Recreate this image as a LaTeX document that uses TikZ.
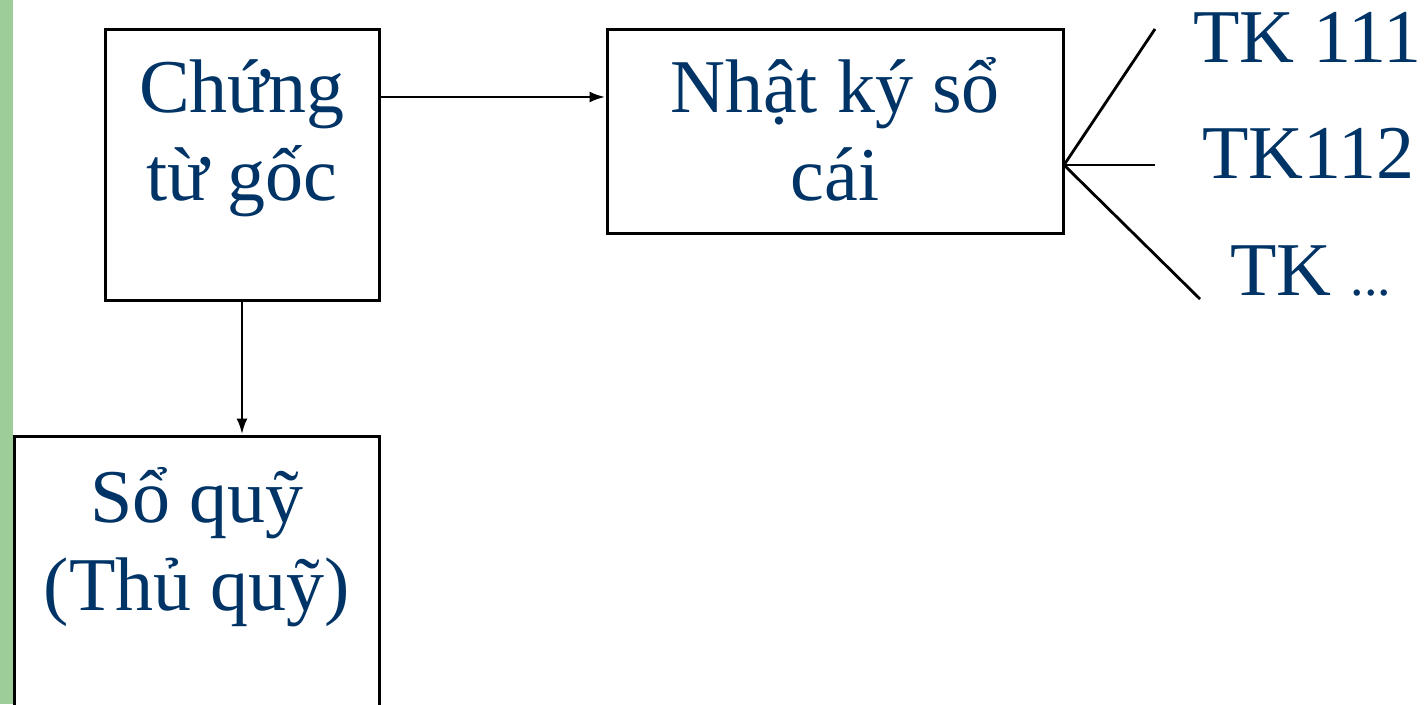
\documentclass[tikz,border=0pt]{standalone}
\usepackage{fontspec}
\setmainfont{Liberation Serif}
\usetikzlibrary{arrows.meta}
\definecolor{navy}{HTML}{003366}
\definecolor{sidebar}{HTML}{9DCD99}
\begin{document}
\begin{tikzpicture}[x=1pt,y=-1pt,
  box/.style={draw=black,line width=3pt,fill=none,inner sep=0pt},
  lbl/.style={text=navy,font=\fontsize{76}{88}\selectfont,align=center,inner sep=0pt,anchor=base},
  tk/.style={text=navy,font=\fontsize{76}{88}\selectfont,inner sep=0pt,anchor=base west},
  arr/.style={line width=2.8pt,-{Latex[length=16pt,width=11pt]}},
  fan/.style={line width=2.8pt}]
\useasboundingbox (0,0) rectangle (1424,704);
\clip (0,0) rectangle (1424,704);
% left accent strip
\fill[sidebar] (0,0) rectangle (13,704);
% boxes
\node[box,minimum width=274pt,minimum height=271pt] (cg) at (242,164.5) {};
\node[box,minimum width=456pt,minimum height=204pt] (nk) at (835,131) {};
\node[box,minimum width=365pt,minimum height=320pt] (sq) at (196.5,596) {};
% box texts (anchored at the baseline of the last line)
\node[lbl] (cgt) at (242,200) {Chứng\\từ gốc};
\node[lbl] (nkt) at (835,200) {Nhật ký sổ\\cái};
\node[lbl] (sqt) at (197,610) {Sổ quỹ\\(Thủ quỹ)};
% account labels
\node[tk] (tk1) at (1193,62) {TK 111};
\node[tk] (tk2) at (1202,178) {TK112};
\node[tk] (tk3) at (1230,295) {TK {\fontsize{54}{60}\selectfont ...}};
% connectors
\coordinate (a1) at (379,97);
\coordinate (a2) at (607,97);
\draw[arr] (cg.east |- a1) -- (nk.west |- a2);
\draw[arr] (cg.south) -- (sq.north -| cg.south);
\coordinate (hub) at (1064,165);
\coordinate (e1) at (1155,29);
\coordinate (e2) at (1155,165);
\coordinate (e3) at (1200,299);
\draw[fan] (hub) -- (e1);
\draw[fan] (hub) -- (e2);
\draw[fan] (hub) -- (e3);
\end{tikzpicture}
\end{document}
